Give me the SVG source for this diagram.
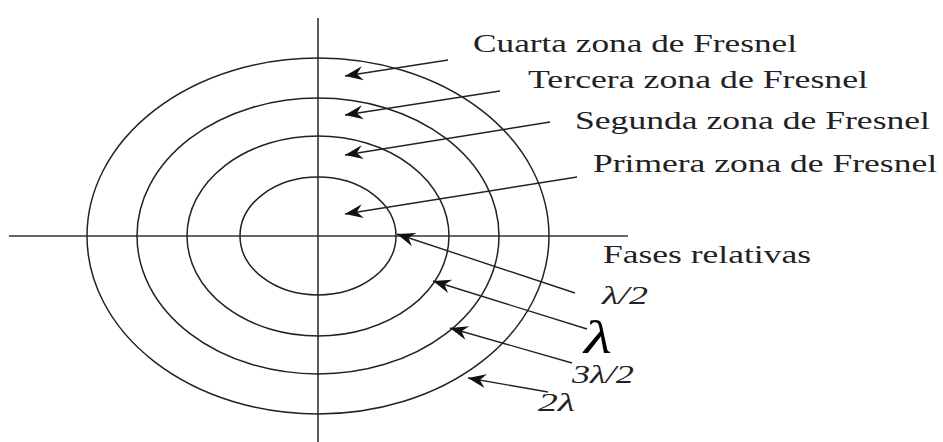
<svg xmlns="http://www.w3.org/2000/svg" width="943" height="442" viewBox="0 0 943 442">
<style>
.ax{stroke:#333;stroke-width:1.6;fill:none}
.ring{stroke:#222;stroke-width:1.5;fill:none}
.arr{stroke:#222;stroke-width:1.4;fill:none;marker-end:url(#ah)}
.t{font-family:"Liberation Serif","Times New Roman",serif;font-size:26px;fill:#222}
.m{font-family:"Liberation Serif","Times New Roman",serif;font-style:italic;font-size:25px;fill:#222}
.big{font-family:"Liberation Serif","Times New Roman",serif;font-style:italic;font-size:46px;fill:#000}
</style>
<defs>
<marker id="ah" markerUnits="userSpaceOnUse" markerWidth="22" markerHeight="16" viewBox="-19 -8 20 16" refX="0" refY="0" orient="auto">
<path d="M0,0 L-18,-7 L-12,0 L-18,7 Z" fill="#111"/>
</marker>
</defs>
<rect width="943" height="442" fill="#fff"/>
<g id="axes">
<line class="ax" x1="318" y1="18" x2="318" y2="442"/>
<line class="ax" x1="9" y1="236" x2="628" y2="236"/>
</g>
<g id="zone1"><ellipse class="ring" cx="318" cy="236" rx="78" ry="59"/></g>
<g id="zone2"><ellipse class="ring" cx="318" cy="236" rx="131" ry="100"/></g>
<g id="zone3"><ellipse class="ring" cx="318" cy="236" rx="181" ry="138"/></g>
<g id="zone4"><ellipse class="ring" cx="318" cy="236" rx="231" ry="178"/></g>
<g id="connectors">
<line class="arr" x1="448" y1="60" x2="345" y2="76"/>
<line class="arr" x1="500" y1="91" x2="345" y2="115"/>
<line class="arr" x1="550" y1="122" x2="345" y2="155"/>
<line class="arr" x1="577" y1="177" x2="345" y2="214"/>
<line class="arr" x1="575" y1="293" x2="397" y2="234"/>
<line class="arr" x1="587" y1="329" x2="433" y2="281"/>
<line class="arr" x1="572" y1="363" x2="450" y2="328"/>
<line class="arr" x1="548" y1="392" x2="468" y2="378"/>
</g>
<g id="labels">
<text class="t" x="473" y="52" textLength="324" lengthAdjust="spacingAndGlyphs">Cuarta zona de Fresnel</text>
<text class="t" x="528" y="88" textLength="340" lengthAdjust="spacingAndGlyphs">Tercera zona de Fresnel</text>
<text class="t" x="575" y="129" textLength="355" lengthAdjust="spacingAndGlyphs">Segunda zona de Fresnel</text>
<text class="t" x="593" y="172" textLength="344" lengthAdjust="spacingAndGlyphs">Primera zona de Fresnel</text>
<text class="t" x="603" y="263" textLength="208" lengthAdjust="spacingAndGlyphs">Fases relativas</text>
<text class="m" x="602" y="304" textLength="46" lengthAdjust="spacingAndGlyphs">λ/2</text>
<text class="big" x="584" y="353" textLength="28" lengthAdjust="spacingAndGlyphs">λ</text>
<text class="m" x="572" y="383" textLength="62" lengthAdjust="spacingAndGlyphs">3λ/2</text>
<text class="m" x="538" y="411" textLength="37" lengthAdjust="spacingAndGlyphs">2λ</text>
</g>
</svg>
